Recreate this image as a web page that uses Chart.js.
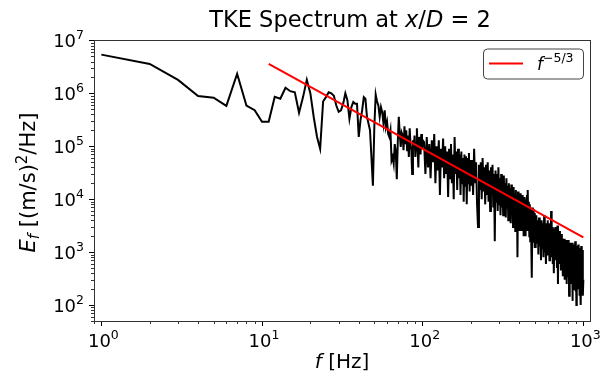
<!DOCTYPE html>
<html>
<head>
<meta charset="utf-8">
<script src="https://cdn.jsdelivr.net/npm/chart.js@4.4.0/dist/chart.umd.min.js"></script>
<style>
  body { margin: 0; background: #fff; }
  #wrap { width: 602px; height: 377px; }
</style>
</head>
<body>
<div id="wrap"><canvas id="spectrum"></canvas></div>
<script>
// --- Datos ---
const freqHz = [
  1, 2, 3, 4, 5, 6, 7, 8, 9, 10,
  11, 12, 13, 14, 15, 16, 17, 18, 19, 20,
  21, 22, 23, 24, 25, 26, 27, 28, 29, 30,
  31, 32, 33, 34, 35, 36, 37, 38, 39, 40,
  41, 42, 43, 44, 45, 46, 47, 48, 49, 50,
  51, 52, 53, 54, 55, 56, 57, 58, 59, 60,
  61, 62, 63, 64, 65, 66, 67, 68, 69, 70,
  71, 72, 73, 74, 75, 76, 77, 78, 79, 80,
  81, 82, 83, 84, 85, 86, 87, 88, 89, 90,
  91, 92, 93, 94, 95, 96, 97, 98, 99, 100,
  102, 104, 106, 108, 110, 112, 114, 116, 118, 120,
  122, 124, 126, 128, 130, 132, 134, 136, 138, 140,
  142, 144, 146, 148, 150, 152, 154, 156, 158, 160,
  162, 164, 166, 168, 170, 172, 174, 176, 178, 180,
  182, 184, 186, 188, 190, 192, 194, 196, 198, 200,
  203, 206, 209, 212, 215, 218, 221, 224, 227, 230,
  233, 236, 239, 242, 245, 248, 251, 254, 257, 260,
  263, 266, 269, 272, 275, 278, 281, 284, 287, 290,
  293, 296, 299, 302, 305, 308, 311, 314, 317, 320,
  323, 326, 329, 332, 335, 338, 341, 344, 347, 350,
  353, 356, 359, 362, 365, 368, 371, 374, 377, 380,
  383, 386, 389, 392, 395, 398, 401, 404, 407, 410,
  413, 416, 419, 422, 425, 428, 431, 434, 437, 440,
  443, 446, 449, 452, 455, 458, 461, 464, 467, 470,
  473, 476, 479, 482, 485, 488, 491, 494, 497, 500,
  505, 510, 515, 520, 525, 530, 535, 540, 545, 550,
  555, 560, 565, 570, 575, 580, 585, 590, 595, 600,
  605, 610, 615, 620, 625, 630, 635, 640, 645, 650,
  655, 660, 665, 670, 675, 680, 685, 690, 695, 700,
  705, 710, 715, 720, 725, 730, 735, 740, 745, 750,
  755, 760, 765, 770, 775, 780, 785, 790, 795, 800,
  805, 810, 815, 820, 825, 830, 835, 840, 845, 850,
  855, 860, 865, 870, 875, 880, 885, 890, 895, 900,
  905, 910, 915, 920, 925, 930, 935, 940, 945, 950,
  955, 960, 965, 970, 975, 980, 985, 990, 995, 1000
];

const energy = [
  5.4e6, 3.6e6, 1.8e6, 8.9e5, 8.3e5, 5.8e5, 2.35e6, 5.9e5, 4.8e5, 2.9e5,
  2.9e5, 8.6e5, 7.9e5, 1.28e6, 1.1e6, 1.05e6, 4.3e5, 8.5e5, 1.8e6, 1.0e6,
  3.5e5, 1.5e5, 9e4, 7e5, 8.5e5, 1.05e6, 1.0e6, 9e5, 5.9e5, 4.5e5,
  4.8e5, 6.4e5, 1.0e6, 7.4e5, 3.3e5, 5.5e5, 6.9e5, 6.4e5, 6.4e5, 1.5e5,
  3.1e5, 4.8e5, 8.5e5, 7.9e5, 3.6e5, 2.7e5, 2.0e5, 6e4, 1.8e4, 2.3e5,
  9.5e5, 7e5, 5.9e5, 3.6e5, 5.5e5, 4.4e5, 2.7e5, 4.8e5, 2.3e5, 2.9e5,
  1.7e5, 1.5e5, 2.0e5, 5.4e4, 6.3e4, 4.7e4, 1.1e5, 8e4, 2.4e4, 1.2e5,
  3.6e5, 1.7e5, 9.7e4, 1.8e5, 1.6e5, 8.4e4, 2.4e5, 1.1e5, 2.0e5, 8.4e4,
  1.6e5, 6.3e4, 2.2e5, 1.1e5, 8.4e4, 3e4, 1.3e5, 9.7e4, 1.6e5, 6.3e4,
  1.1e5, 2.2e5, 9e4, 4e4, 1.5e5, 1.2e5, 7e4, 1.7e5, 9e4, 1.3e5,
  1.2e5, 3e4, 1.5e5, 4e4, 1.1e5, 2.5e4, 1.3e5, 5e4, 1.7e5, 2e4,
  1.0e5, 3.5e4, 1.3e5, 1.2e4, 9e4, 4e4, 1.4e5, 2.5e4, 1.0e5, 3e4,
  8e4, 1.1e4, 9e4, 2.5e4, 1.1e5, 2e4, 7e4, 1.0e4, 1.5e5, 3e4,
  8e4, 1.5e4, 9e4, 2.5e4, 7e4, 1.2e4, 8e4, 2e4, 6e4, 9e3,
  7e4, 1.8e4, 6.5e4, 8e3, 6e4, 2e4, 7.5e4, 1.4e4, 5.5e4, 1.8e4,
  5.5e4, 1.2e4, 9e4, 2e4, 5e4, 8e3, 3e3, 4.5e4, 1.5e4, 5e4,
  1.0e4, 6e4, 1.4e4, 4e4, 8e3, 4.5e4, 1.2e4, 5e4, 9e3, 3.5e4,
  6e3, 4e4, 1.2e4, 4.5e4, 7e3, 3e4, 1.6e3, 3.5e4, 9e3, 3e4,
  6e3, 4e4, 8e3, 2.5e4, 5e3, 3e4, 7e3, 2.2e4, 5e3, 2.8e4,
  6e3, 2e4, 4.5e3, 2.5e4, 7e3, 1.8e4, 4e3, 2e4, 6e3, 1.6e4,
  3.5e3, 1.9e4, 5e3, 1.5e4, 3e3, 1.7e4, 4.5e3, 1.3e4, 2.5e3, 1.5e4,
  5e3, 1.2e4, 800, 1.4e4, 3.5e3, 1.1e4, 2.5e3, 1.3e4, 4e3, 1.0e4,
  2.5e3, 1.2e4, 3e3, 9e3, 2e3, 1.1e4, 3.5e3, 8e3, 2e3, 1.0e4,
  3e3, 1.2e4, 2.5e3, 1.5e4, 3e3, 9e3, 2e3, 8e3, 1.6e3, 7e3,
  2.5e3, 6e3, 330, 7e3, 2e3, 6.5e3, 1.5e3, 5e3, 1.2e3, 5.5e3,
  1.2e3, 5e3, 1.5e3, 4e3, 900, 4.5e3, 1.3e3, 3.5e3, 700, 4e3,
  1.2e3, 3.5e3, 800, 5e3, 1.0e3, 3e3, 600, 3.5e3, 900, 4e3,
  1.0e3, 3.5e3, 700, 3e3, 1.2e3, 6e3, 800, 3e3, 600, 2.8e3,
  400, 2.5e3, 900, 3e3, 700, 2.6e3, 500, 3.2e3, 250, 2.2e3,
  800, 2.5e3, 600, 2e3, 450, 2.2e3, 700, 1.8e3, 350, 1.6e3,
  600, 1.8e3, 300, 1.5e3, 500, 1.7e3, 250, 1.4e3, 450, 1.6e3,
  350, 1.7e3, 150, 1.3e3, 400, 1.5e3, 250, 1.2e3, 350, 1.5e3,
  120, 1.1e3, 300, 1.4e3, 200, 1.2e3, 350, 1.6e3, 180, 1.1e3,
  100, 1.2e3, 300, 1.3e3, 200, 1.4e3, 250, 1.0e3, 150, 1.2e3,
  300, 1.1e3, 100, 1.3e3, 200, 1.0e3, 250, 1.1e3, 150, 300
];

// recta de referencia f^(-5/3): extremos
const fitFreqHz = [11, 1000];
const fitEnergy = [3.6e6, 1.9e3];

const xTickValues = [1, 10, 100, 1000];
const xTickExponents = ['0', '1', '2', '3'];
const yTickValues = [1e2, 1e3, 1e4, 1e5, 1e6, 1e7];
const yTickExponents = ['2', '3', '4', '5', '6', '7'];

const FONT = '"DejaVu Sans", sans-serif';

// --- Utilidades de dibujo ---
// dibuja una secuencia de trozos de texto (cursiva, tamaño, desplazamiento vertical)
function drawRuns(ctx, runs, x, y, align) {
  let total = 0;
  runs.forEach(r => {
    ctx.font = (r.italic ? 'italic ' : '') + r.size + 'px ' + FONT;
    r.w = ctx.measureText(r.text).width;
    total += r.w;
  });
  let cx = x;
  if (align === 'center') cx = x - total / 2;
  if (align === 'right') cx = x - total;
  ctx.textAlign = 'left';
  ctx.textBaseline = 'alphabetic';
  runs.forEach(r => {
    ctx.font = (r.italic ? 'italic ' : '') + r.size + 'px ' + FONT;
    ctx.fillText(r.text, cx, y + (r.dy || 0));
    cx += r.w;
  });
}

function powerRuns(exp) {
  return [
    { text: '10', size: 18 },
    { text: exp, size: 12.5, dy: -8 }
  ];
}

const decorPlugin = {
  id: 'decor',
  afterDraw(chart) {
    const ctx = chart.ctx;
    const area = chart.chartArea;
    const xs = chart.scales.x;
    const ys = chart.scales.y;
    ctx.save();
    ctx.fillStyle = '#000';

    // marco de los ejes
    ctx.strokeStyle = '#333';
    ctx.lineWidth = 1;
    ctx.strokeRect(Math.round(area.left) + 0.5, Math.round(area.top) + 0.5,
      Math.round(area.right - area.left), Math.round(area.bottom - area.top));

    // ticks menores (2..9 por década)
    ctx.beginPath();
    for (let d = 0.1; d <= 1e3; d *= 10) {
      for (let m = 2; m <= 9; m++) {
        const v = m * d;
        if (v < xs.min || v > xs.max) continue;
        const px = Math.round(xs.getPixelForValue(v)) + 0.5;
        ctx.moveTo(px, area.bottom);
        ctx.lineTo(px, area.bottom + 3);
      }
    }
    for (let d = 10; d <= 1e7; d *= 10) {
      for (let m = 2; m <= 9; m++) {
        const v = m * d;
        if (v < ys.min || v > ys.max) continue;
        const py = Math.round(ys.getPixelForValue(v)) + 0.5;
        ctx.moveTo(area.left, py);
        ctx.lineTo(area.left - 3, py);
      }
    }
    ctx.stroke();

    // etiquetas de los ticks (10 con exponente)
    xTickValues.forEach((v, i) => {
      drawRuns(ctx, powerRuns(xTickExponents[i]), xs.getPixelForValue(v) + 2, 347, 'center');
    });
    yTickValues.forEach((v, i) => {
      drawRuns(ctx, powerRuns(yTickExponents[i]), 84, ys.getPixelForValue(v) + 7, 'right');
    });

    // título
    const midX = (area.left + area.right) / 2 + 8;
    drawRuns(ctx, [
      { text: 'TKE Spectrum at ', size: 22.5 },
      { text: 'x', size: 22.5, italic: true },
      { text: '/', size: 22.5 },
      { text: 'D', size: 22.5, italic: true },
      { text: ' = 2', size: 22.5 }
    ], midX, 27, 'center');

    // etiqueta eje x
    drawRuns(ctx, [
      { text: 'f', size: 20, italic: true },
      { text: ' [Hz]', size: 20 }
    ], (area.left + area.right) / 2, 368, 'center');

    // etiqueta eje y (rotada)
    ctx.save();
    ctx.translate(35, (area.top + area.bottom) / 2 + 2);
    ctx.rotate(-Math.PI / 2);
    drawRuns(ctx, [
      { text: 'E', size: 21, italic: true },
      { text: 'f', size: 15, italic: true, dy: 4 },
      { text: ' [(m/s)', size: 21 },
      { text: '2', size: 15, dy: -8 },
      { text: '/Hz]', size: 21 }
    ], 0, 0, 'center');
    ctx.restore();

    // leyenda
    const bx = 483, by = 48.5, bw = 100, bh = 30;
    ctx.beginPath();
    ctx.roundRect(bx + 0.5, by + 0.5, bw, bh, 4);
    ctx.fillStyle = 'rgba(255,255,255,0.8)';
    ctx.fill();
    ctx.strokeStyle = '#444';
    ctx.lineWidth = 1;
    ctx.stroke();
    ctx.beginPath();
    ctx.strokeStyle = '#ff0000';
    ctx.lineWidth = 2;
    ctx.moveTo(bx + 6, by + 15);
    ctx.lineTo(bx + 40, by + 15);
    ctx.stroke();
    ctx.fillStyle = '#000';
    drawRuns(ctx, [
      { text: 'f', size: 17, italic: true },
      { text: '−5/3', size: 12.5, dy: -8 }
    ], bx + 54, by + 21, 'left');

    ctx.restore();
  }
};

function buildChart() {
  const ctx = document.getElementById('spectrum').getContext('2d');
  new Chart(ctx, {
    type: 'line',
    data: {
      datasets: [
        {
          label: 'E_f',
          data: freqHz.map((f, i) => ({ x: f, y: energy[i] })),
          borderColor: '#000',
          borderWidth: 2,
          pointRadius: 0,
          tension: 0,
          order: 2
        },
        {
          label: 'f^-5/3',
          data: fitFreqHz.map((f, i) => ({ x: f, y: fitEnergy[i] })),
          borderColor: '#ff0000',
          borderWidth: 2,
          pointRadius: 0,
          tension: 0,
          order: 1
        }
      ]
    },
    options: {
      responsive: true,
      maintainAspectRatio: false,
      devicePixelRatio: 1,
      animation: false,
      layout: { padding: { top: 40, right: 12, left: 0, bottom: 0 } },
      plugins: {
        legend: { display: false },
        title: { display: false },
        tooltip: { enabled: false }
      },
      scales: {
        x: {
          type: 'logarithmic',
          min: 0.9,
          max: 1100,
          afterFit: s => { s.height = 56; },
          afterBuildTicks: s => { s.ticks = xTickValues.map(v => ({ value: v })); },
          border: { display: false },
          grid: { drawOnChartArea: false, color: '#000', tickLength: 5 },
          ticks: { autoSkip: false, maxRotation: 0, callback: () => '' }
        },
        y: {
          type: 'logarithmic',
          min: 50,
          max: 1.02e7,
          afterFit: s => { s.width = 94; },
          afterBuildTicks: s => { s.ticks = yTickValues.map(v => ({ value: v })); },
          border: { display: false },
          grid: { drawOnChartArea: false, color: '#000', tickLength: 5 },
          ticks: { autoSkip: false, callback: () => '' }
        }
      }
    },
    plugins: [decorPlugin]
  });
}

window.onload = buildChart;
</script>
</body>
</html>
